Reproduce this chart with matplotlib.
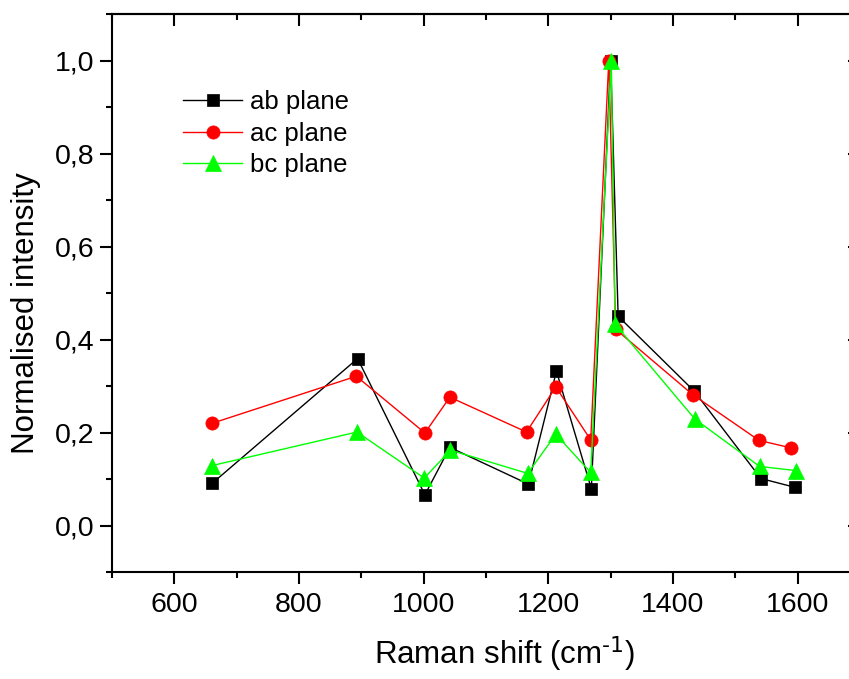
import matplotlib
matplotlib.use("Agg")
import matplotlib.pyplot as plt
from matplotlib.ticker import MultipleLocator, FixedLocator, FixedFormatter

plt.rcParams['font.family'] = ['Liberation Sans', 'DejaVu Sans']
plt.rcParams['mathtext.default'] = 'regular'

# ---- data ----
ab_x = [661, 894, 1002, 1042, 1168, 1213, 1269, 1300, 1312, 1434, 1541, 1596]
ab_y = [0.091, 0.359, 0.066, 0.168, 0.089, 0.332, 0.079, 1.0, 0.450, 0.289, 0.101, 0.082]

ac_x = [661, 892, 1002, 1042, 1165, 1212, 1268, 1297, 1308, 1432, 1538, 1589]
ac_y = [0.220, 0.321, 0.199, 0.276, 0.201, 0.298, 0.184, 1.0, 0.422, 0.281, 0.183, 0.167]

bc_x = [661, 893, 1001, 1043, 1167, 1212, 1268, 1301, 1307, 1435, 1539, 1598]
bc_y = [0.129, 0.201, 0.102, 0.162, 0.112, 0.196, 0.114, 1.0, 0.433, 0.229, 0.127, 0.118]

series_labels = ['ab plane', 'ac plane', 'bc plane']
xticks = [600, 800, 1000, 1200, 1400, 1600]
yticks = [0.0, 0.2, 0.4, 0.6, 0.8, 1.0]
ytick_labels = ['0,0', '0,2', '0,4', '0,6', '0,8', '1,0']

W, H = 849, 679
fig = plt.figure(figsize=(W / 100, H / 100), dpi=100)
left, right, top, bottom = 112, 860, 14, 572
ax = fig.add_axes([left / W, (H - bottom) / H, (right - left) / W, (bottom - top) / H])

lw = 1.0
ax.plot(ab_x, ab_y, color='black', lw=lw, marker='s', ms=8.2, mec='black', mew=0.5,
        label=series_labels[0])
ax.plot(ac_x, ac_y, color='#ff0000', lw=lw, marker='o', ms=9.5, mec='#ff0000', mew=0.5,
        label=series_labels[1])
ax.plot(bc_x, bc_y, color='#00ff00', lw=lw, marker='^', ms=11, mec='#00ff00', mew=0.5,
        label=series_labels[2])

ax.set_xlim(500, 1700)
ax.set_ylim(-0.1, 1.1)

ax.xaxis.set_major_locator(FixedLocator(xticks))
ax.xaxis.set_minor_locator(MultipleLocator(100))
ax.yaxis.set_major_locator(FixedLocator(yticks))
ax.yaxis.set_major_formatter(FixedFormatter(ytick_labels))
ax.yaxis.set_minor_locator(MultipleLocator(0.1))

for s in ax.spines.values():
    s.set_linewidth(1.5)

ax.tick_params(axis='both', which='major', labelsize=20.5, width=1.5, length=8.5)
ax.tick_params(axis='both', which='minor', width=1.5, length=4.5)
ax.tick_params(axis='both', which='both', direction='out', top=False, right=False)
ax.tick_params(axis='x', which='major', pad=6)
ax.tick_params(axis='y', which='major', pad=4)

# top / right ticks pointing inward
secx = ax.secondary_xaxis('top')
secx.xaxis.set_major_locator(FixedLocator(xticks))
secx.xaxis.set_minor_locator(MultipleLocator(100))
secx.tick_params(which='both', direction='in', labeltop=False, width=1.5)
secx.tick_params(which='major', length=8.5)
secx.tick_params(which='minor', length=4.5)
secx.spines['top'].set_linewidth(1.5)

secy = ax.secondary_yaxis('right')
secy.yaxis.set_major_locator(FixedLocator(yticks))
secy.yaxis.set_minor_locator(MultipleLocator(0.1))
secy.tick_params(which='both', direction='in', labelright=False, width=1.5)
secy.tick_params(which='major', length=8.5)
secy.tick_params(which='minor', length=4.5)
secy.spines['right'].set_linewidth(1.5)

ax.set_xlabel(r'Raman shift (cm$^{\text{-1}}$)', fontsize=22.5)
ax.set_ylabel('Normalised intensity', fontsize=22.5)
ax.xaxis.set_label_coords((504 - left) / (right - left), -(634 - bottom) / (bottom - top))
ax.yaxis.set_label_coords(-(112 - 41) / (right - left), (bottom - 313) / (bottom - top))

leg = ax.legend(loc='upper left',
                bbox_to_anchor=((183 - left) / (right - left), 1 - (90 - top) / (bottom - top)),
                frameon=False, fontsize=18.5, handlelength=2.3, handletextpad=0.3,
                labelspacing=0.3, borderpad=0, borderaxespad=0)

fig.savefig('out.png', dpi=100)
